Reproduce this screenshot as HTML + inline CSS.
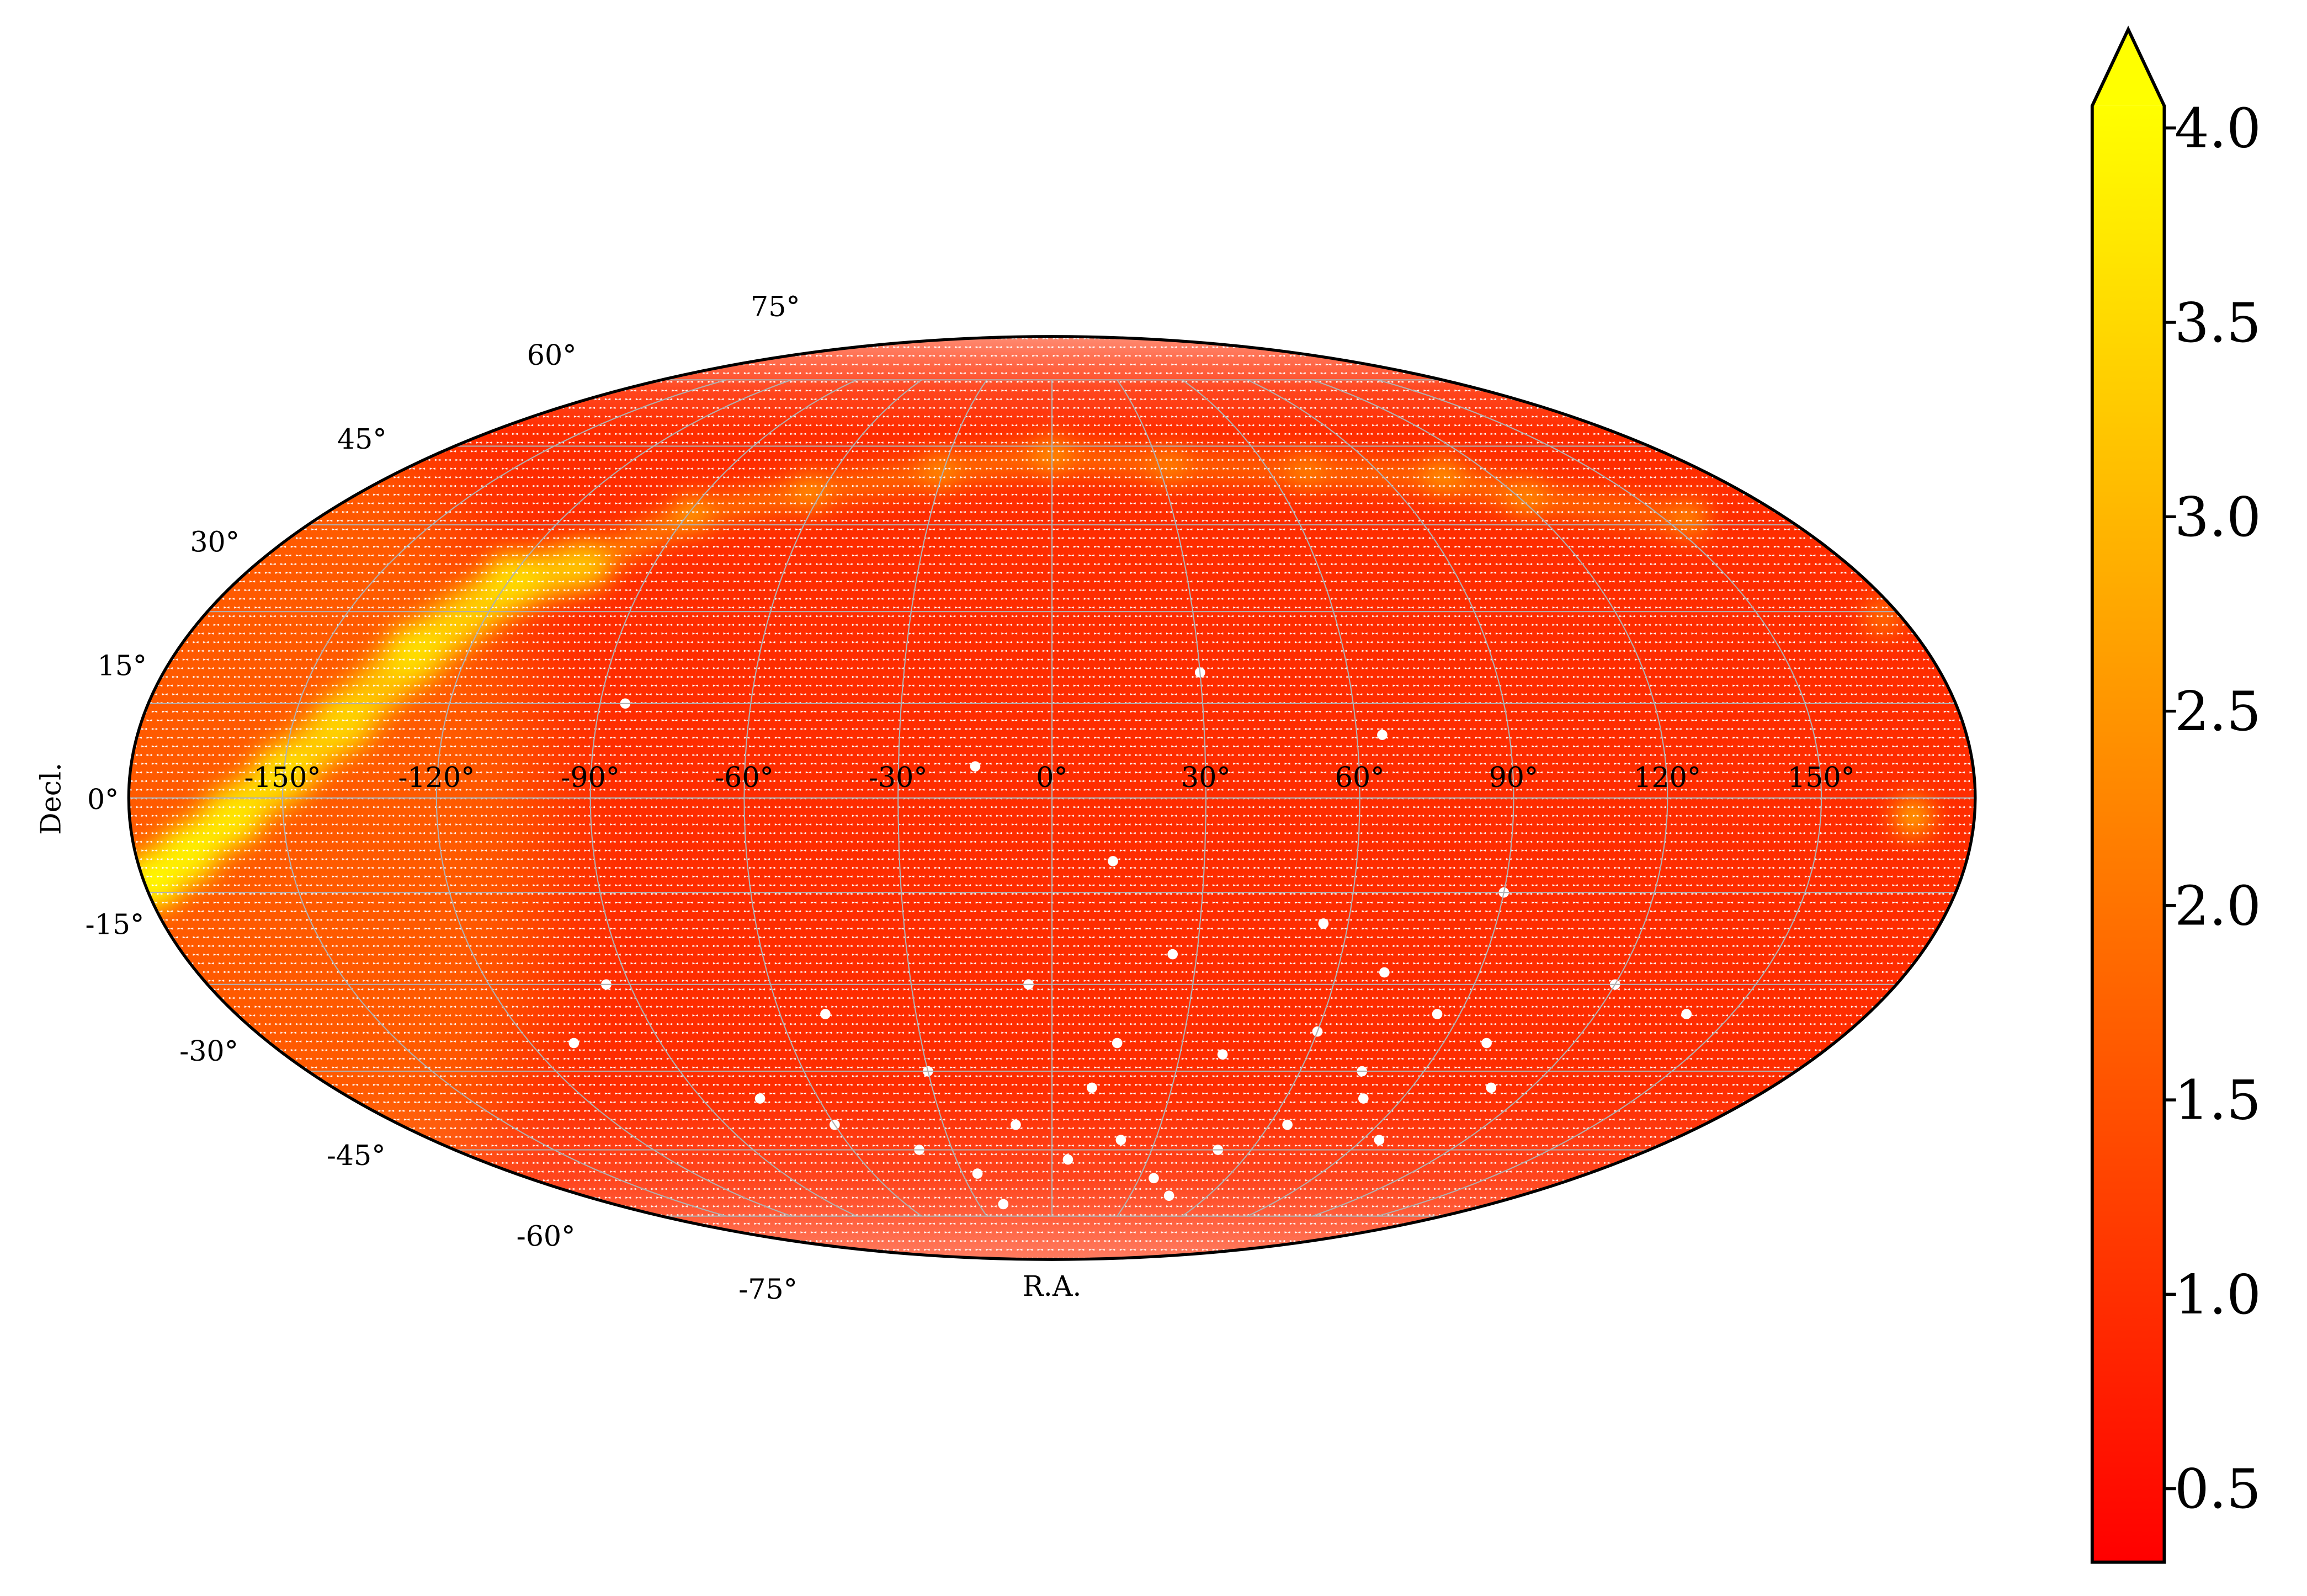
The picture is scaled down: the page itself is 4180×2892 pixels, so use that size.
<!DOCTYPE html>
<html><head><meta charset="utf-8"><style>
html,body{margin:0;padding:0;background:#fff;}
svg{display:block;}
text{font-family:"DejaVu Serif","Liberation Serif",serif;}
</style></head><body>
<svg id="chart" width="4180" height="2892" viewBox="0 0 1568 1085" preserveAspectRatio="none" xmlns="http://www.w3.org/2000/svg">
<defs>
<clipPath id="ell"><ellipse cx="715" cy="542.5" rx="627.5" ry="313.7"/></clipPath>
<filter id="blur" filterUnits="userSpaceOnUse" x="0" y="0" width="1568" height="1085"><feGaussianBlur stdDeviation="8"/></filter>
<filter id="blur2" filterUnits="userSpaceOnUse" x="0" y="0" width="1568" height="1085"><feGaussianBlur stdDeviation="30"/></filter>
<linearGradient id="cmap" x1="0" y1="1" x2="0" y2="0"><stop offset="0" stop-color="#ff0000"/><stop offset="1" stop-color="#ffff00"/></linearGradient>
<linearGradient id="rim" x1="0" y1="0" x2="0" y2="1085" gradientUnits="userSpaceOnUse">
<stop offset="0.205" stop-color="#fff" stop-opacity="0.5"/>
<stop offset="0.245" stop-color="#fff" stop-opacity="0.12"/>
<stop offset="0.27" stop-color="#fff" stop-opacity="0"/>
<stop offset="0.68" stop-color="#fff" stop-opacity="0"/>
<stop offset="0.74" stop-color="#fff" stop-opacity="0.12"/>
<stop offset="0.79" stop-color="#fff" stop-opacity="0.38"/>
</linearGradient>
<pattern id="hex" x="0" y="0" width="7" height="11.8" patternUnits="userSpaceOnUse">
<g fill="#ffffff">
<path d="M-1.9,-0.7L0,0L-1.9,0.7ZM1.9,-0.7L0,0L1.9,0.7Z"/>
<path d="M5.1,-0.7L7,0L5.1,0.7ZM8.9,-0.7L7,0L8.9,0.7Z"/>
<path d="M-1.9,11.1L0,11.8L-1.9,12.5ZM1.9,11.1L0,11.8L1.9,12.5Z"/>
<path d="M5.1,11.1L7,11.8L5.1,12.5ZM8.9,11.1L7,11.8L8.9,12.5Z"/>
<path d="M1.6,5.2L3.5,5.9L1.6,6.6ZM5.4,5.2L3.5,5.9L5.4,6.6Z"/>
</g>
</pattern>
</defs>
<g id="map"></g>
<g id="cbar"></g>
</svg>
<script>
// ---- data ----
const bgValue = 0.95;
const bandRA  = [-178,-170,-160,-150,-140,-131,-119,-105,-89,-63,-31,0,33,70,106,122,156,176,168];
const bandDec = [-13,-9,-3,4,12,23,35,38,47,51,55,58,56,55,54,50,46,29,-3];
const bandVal = [3.9,3.8,3.7,3.5,3.4,3.3,3.8,3.0,2.5,2.4,2.3,2.5,2.2,2.1,2.5,2.4,2.2,1.9,2.7];
const holeRA  = [-40,-25,-10,5,20,35,50,65,80,95,110,-60,-75,-30,15,40,60,85,-5,25,70,100,-50,10,45,75,120,-20,55,90,-95,-110,30,12,-15,140,-85,65];
const holeDec = [-60,-65,-55,-62,-58,-66,-60,-55,-50,-58,-48,-55,-50,-45,-40,-42,-38,-35,-30,-25,-28,-40,-35,-48,-70,-45,-30,-72,-20,-15,-30,-40,20,-10,5,-35,15,10];
const decTicks = [75,60,45,30,15,0,-15,-30,-45,-60,-75];
const raTicks = [-150,-120,-90,-60,-30,0,30,60,90,120,150];
const cbTicks = [0.5,1.0,1.5,2.0,2.5,3.0,3.5,4.0];
// label anchor positions (layout only)
const decLabelX = [527,375,246,146,83,70,78,142,242,371,522];
const decLabelY = [208,241,298,368,452,543,628,714,785,840,876];

const NS="http://www.w3.org/2000/svg";
const CX=715, CY=542.5, K=221.85;
function mk(tag,attrs,parent){const e=document.createElementNS(NS,tag);for(const k in attrs)e.setAttribute(k,attrs[k]);parent.appendChild(e);return e;}
function proj(ra,dec){
  const phi=dec*Math.PI/180, lam=ra*Math.PI/180;
  let th=phi;
  if(Math.abs(Math.abs(phi)-Math.PI/2)>1e-6){
    for(let i=0;i<60;i++){const f=2*th+Math.sin(2*th)-Math.PI*Math.sin(phi);const d=2+2*Math.cos(2*th);if(Math.abs(d)<1e-9)break;th-=f/d;}
  }
  return [CX+K*2*Math.SQRT2/Math.PI*lam*Math.cos(th), CY-K*Math.SQRT2*Math.sin(th)];
}
function cmap(v){const t=Math.max(0,Math.min(1,(v-0.3)/3.7));return `rgb(255,${Math.round(255*t)},0)`;}

const map=document.getElementById('map');
const clip=mk('g',{'clip-path':'url(#ell)'},map);
const bg=mk('rect',{x:0,y:0,width:1568,height:1085,fill:cmap(bgValue)},clip);


const side=mk('ellipse',{cx:170,cy:580,rx:200,ry:320,fill:cmap(1.75),opacity:0.85,filter:'url(#blur2)'},clip);


const bandG=mk('g',{filter:'url(#blur)'},clip);
for(let i=0;i<bandRA.length;i++){
  const p=proj(bandRA[i],bandDec[i]);
  const big=bandVal[i]>3.2;
  const c=mk('circle',{cx:p[0],cy:p[1],r:big?20:13,fill:cmap(bandVal[i])},bandG);
  
  
}
for(let i=0;i<bandRA.length-3;i++){
  const a=proj(bandRA[i],bandDec[i]),b=proj(bandRA[i+1],bandDec[i+1]);
  const l=mk('line',{x1:a[0],y1:a[1],x2:b[0],y2:b[1],stroke:cmap((bandVal[i]+bandVal[i+1])/2),'stroke-width':bandVal[i]>3.2?34:18,'stroke-linecap':'round',opacity:bandVal[i]>3.2?0.85:0.65},bandG);
  
  
}
mk('rect',{x:0,y:0,width:1568,height:1085,fill:'url(#hex)'},clip);
mk('rect',{x:0,y:0,width:1568,height:1085,fill:'url(#rim)'},clip);
for(let i=0;i<holeRA.length;i++){
  const p=proj(holeRA[i],holeDec[i]);
  const c=mk('circle',{cx:p[0],cy:p[1],r:3.5,fill:'#fff'},clip);
  
  
}
// grid
const grid=mk('g',{stroke:'#b0b0b0','stroke-width':0.8,fill:'none'},clip);
for(let ra=-150;ra<=150;ra+=30){let d='';for(let dec=-75;dec<=75;dec+=1){const p=proj(ra,dec);d+=(dec===-75?'M':'L')+p[0].toFixed(1)+','+p[1].toFixed(1);}
  const l=mk('path',{d:d},grid);}
for(let dec=-75;dec<=75;dec+=15){const a=proj(-180,dec),b=proj(180,dec);
  const l=mk('line',{x1:a[0],y1:a[1],x2:b[0],y2:b[1]},grid);}
const border=mk('ellipse',{cx:CX,cy:CY,rx:627.5,ry:313.7,fill:'none',stroke:'#000','stroke-width':2},map);


// labels
decTicks.forEach((dec,i)=>{
  const t=mk('text',{x:decLabelX[i],y:decLabelY[i]+7,'font-size':19,'text-anchor':'middle'},map);t.textContent=dec+'°';
  });
for(const ra of raTicks){const p=proj(ra,0);
  const t=mk('text',{x:p[0],y:535,'font-size':19,'text-anchor':'middle'},map);t.textContent=ra+'°';
  }
const xl=mk('text',{x:715,y:881,'font-size':19,'text-anchor':'middle'},map);xl.textContent='R.A.';

const yl=mk('text',{x:0,y:0,'font-size':19,'text-anchor':'middle',transform:'translate(41,543) rotate(-90)'},map);yl.textContent='Decl.';

// colorbar
const cb=document.getElementById('cbar');
const X0=1422,X1=1471,YB=1062,YT=72;
function vy(v){return 87+(4.0-v)*264.3;}
mk('rect',{x:X0,y:YT,width:X1-X0,height:YB-YT,fill:'url(#cmap)'},cb);
mk('polygon',{points:`${X0},${YT} ${(X0+X1)/2},20 ${X1},${YT}`,fill:'#ffff00'},cb);
const out=mk('path',{d:`M${X0},${YB}L${X0},${YT}L${(X0+X1)/2},20L${X1},${YT}L${X1},${YB}Z`,fill:'none',stroke:'#000','stroke-width':2.2},cb);

for(const v of cbTicks){const y=vy(v);
  mk('line',{x1:X1,y1:y,x2:X1+8,y2:y,stroke:'#000','stroke-width':2},cb);
  const t=mk('text',{x:X1+7,y:y+13,'font-size':37},cb);t.textContent=v.toFixed(1);
  }
</script>
</body></html>
